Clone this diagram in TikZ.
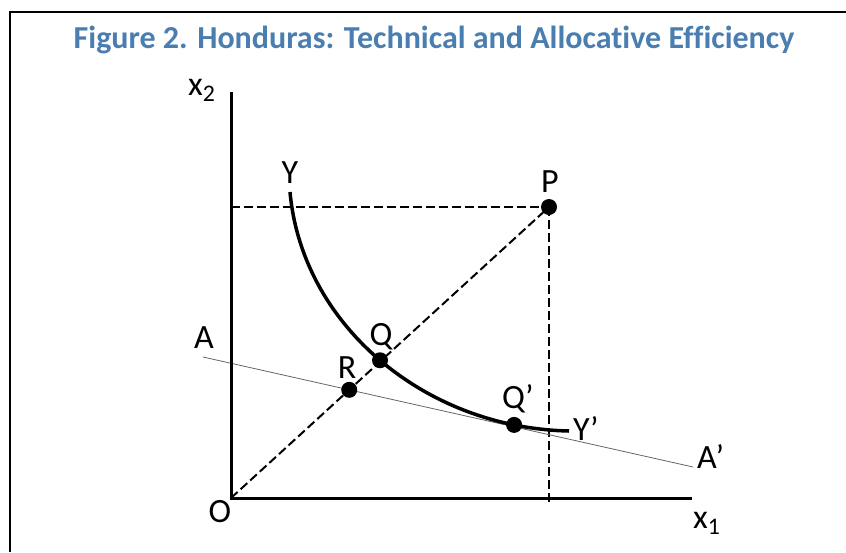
\documentclass[tikz,border=0pt]{standalone}
\usepackage{fontspec}
\setmainfont{Carlito}[Ligatures={TeX,NoCommon}]
\definecolor{titleblue}{RGB}{74,126,176}

\begin{document}
\begin{tikzpicture}[x=1pt, y=-1pt,
  axis/.style={line width=3pt},
  guide/.style={line width=2pt, dash pattern=on 9pt off 4pt},
  budget/.style={line width=0.8pt, black!60},
  isoquant/.style={line width=3.5pt},
  dot/.style={circle, fill=black, inner sep=0pt, minimum size=16pt},
  lbl/.style={font=\fontsize{34}{40}\selectfont, inner sep=0pt}]
  \useasboundingbox (0,0) rectangle (846,552);
  \draw[line width=2pt] (10,552) -- (10,12) -- (846,12);
  \node[font=\bfseries\fontsize{32}{38}\selectfont, text=titleblue, anchor=base] (title) at (434,48) {Figure 2. Honduras: Technical and Allocative Efficiency};

  \coordinate (O) at (231,498);
  \coordinate (x2end) at (231,92);
  \coordinate (x1end) at (692,498);
  \coordinate (P) at (549,207);
  \coordinate (Pfoot) at (549,504);
  \coordinate (Pside) at (231,207);
  \coordinate (Aw) at (203,357);
  \coordinate (Ae) at (693,467);
  \coordinate (Ytop) at (290,192);
  \coordinate (Yend) at (569,431);

  % dashed guides
  \draw[guide] (Pside) -- (P);
  \draw[guide] (P) -- (Pfoot);
  \draw[guide] (O) -- (P);
  % iso-cost line
  \draw[budget] (Aw) -- (Ae);
  % axes
  \draw[axis] (x2end) -- (O) -- (x1end);
  % isoquant
  \draw[isoquant] (Ytop) .. controls (302,325) and (425,428) ..
    node[dot, pos=0.5] (Q) {} node[dot, pos=0.87] (Qp) {} (Yend);
  \node[dot] (Pdot) at (P) {};
  \node[dot] (R) at (intersection of O--P and Aw--Ae) {};

  % labels
  \node[lbl, anchor=base west] (x2lbl) at (188,95) {x\textsubscript{2}};
  \node[lbl, anchor=base west] (x1lbl) at (693,528) {x\textsubscript{1}};
  \node[lbl, anchor=base] (Olbl) at (220,522) {O};
  \node[lbl, anchor=base] (Ylbl) at (290,183) {Y};
  \node[lbl, anchor=base] (Plbl) at (550,192) {P};
  \node[lbl, anchor=base] (Albl) at (204,348) {A};
  \node[lbl, anchor=base] (Qlbl) at (381,345) {Q};
  \node[lbl, anchor=base] (Rlbl) at (347,378) {R};
  \node[lbl, anchor=base west] (Qplbl) at (502,408) {Q’};
  \node[lbl, anchor=base west] (Yplbl) at (573,440) {Y’};
  \node[lbl, anchor=base west] (Aplbl) at (697,468) {A’};
\end{tikzpicture}
\end{document}
